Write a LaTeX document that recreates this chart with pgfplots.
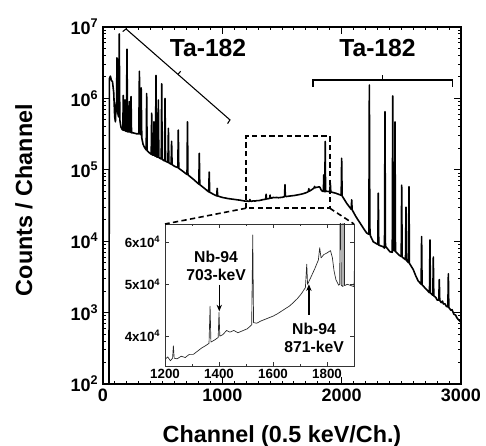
\documentclass[border=0pt]{standalone}
\usepackage{fontspec}
\setmainfont{Liberation Sans}
\usepackage{pgfplots}
\usepackage{pgfplotstable}
\pgfplotsset{compat=1.18}
\usetikzlibrary{arrows.meta}

% gamma spectrum, values (channel, counts)
\pgfplotstableread{
ch cnt
50 100
54 1.9e6
62 2.05e6
70 1.8e6
80 1.7e6
90 1.2e6
98 5.5e5
104 4.7e5
110 8.5e5
114 9.0e5
117 3.7e6
121 7.0e5
126 6.0e5
131 5.5e5
136 8.0e6
141 5.0e5
150 4.0e5
160 3.7e5
166 3.6e5
170 1.1e6
174 3.6e5
180 3.55e5
184 9.5e5
188 3.5e5
196 3.45e5
201 4.9e6
206 3.4e5
216 3.4e5
221 9.0e5
226 3.35e5
231 3.35e5
235 1.06e6
239 3.3e5
250 3.3e5
265 3.25e5
280 3.2e5
300 3.2e5
305 2.4e6
310 3.2e5
316 3.1e5
320 1.4e6
325 2.8e5
335 2.3e5
345 2.1e5
362 1.9e5
366 1.17e6
370 1.85e5
385 1.75e5
404 1.65e5
408 6.2e5
412 1.62e5
423 1.6e5
427 4.7e5
431 1.58e5
440 1.55e5
444 2.1e6
448 1.52e5
460 1.5e5
464 9.5e5
468 1.48e5
488 1.42e5
492 1.6e6
496 1.4e5
516 1.33e5
520 1.0e6
524 1.32e5
544 1.27e5
548 3.8e5
552 1.25e5
571 1.2e5
575 2.5e5
579 1.18e5
600 1.12e5
627 1.07e5
631 3.6e5
635 1.05e5
670 9.5e4
704 8.6e4
708 4.7e5
712 8.5e4
760 7.3e4
803 6.3e4
807 1.7e5
811 6.2e4
850 5.5e4
886 4.9e4
890 9.3e4
894 4.85e4
930 4.5e4
953 4.3e4
957 5.5e4
961 4.3e4
1000 4.1e4
1050 3.95e4
1100 3.85e4
1150 3.75e4
1200 3.62e4
1210 3.66e4
1220 3.6e4
1228 3.64e4
1231 3.84e4
1234 3.64e4
1245 3.63e4
1260 3.67e4
1275 3.65e4
1290 3.7e4
1305 3.7e4
1320 3.75e4
1335 3.8e4
1350 3.84e4
1363 3.88e4
1367 4.55e4
1370 3.9e4
1385 3.94e4
1397 3.98e4
1400 4.43e4
1403 4.0e4
1415 4.03e4
1428 4.1e4
1440 4.07e4
1455 4.1e4
1470 4.06e4
1490 4.1e4
1505 4.13e4
1521 4.2e4
1525 6.18e4
1528 4.24e4
1540 4.23e4
1555 4.27e4
1570 4.3e4
1585 4.33e4
1600 4.36e4
1615 4.4e4
1630 4.45e4
1645 4.5e4
1660 4.55e4
1675 4.62e4
1690 4.7e4
1705 4.8e4
1720 4.93e4
1725 5.45e4
1728 5.0e4
1740 5.15e4
1755 5.35e4
1768 5.55e4
1773 5.85e4
1778 5.6e4
1788 5.68e4
1800 5.72e4
1813 5.78e4
1820 5.6e4
1826 5.3e4
1833 5.1e4
1843 4.98e4
1847 5.0e4
1850 8.5e4
1853 4.98e4
1859 4.95e4
1862 2.5e5
1865 4.97e4
1875 5.0e4
1890 4.97e4
1900 4.95e4
1905 6.5e4
1909 4.9e4
1950 4.7e4
1996 4.4e4
2000 1.45e5
2004 4.3e4
2042 3.4e4
2080 2.8e4
2084 3.8e4
2088 2.75e4
2120 2.2e4
2154 1.8e4
2190 1.45e4
2210 1.3e4
2228 1.25e4
2232 1.54e6
2236 1.6e4
2240 1.2e4
2265 9.8e3
2303 9.0e3
2307 4.7e4
2311 8.8e3
2346 8.4e3
2359 8.0e3
2363 6.5e5
2367 8.5e3
2405 7.1e3
2424 7.0e3
2428 1.08e6
2432 9.0e3
2438 7.5e3
2443 7.3e3
2447 4.7e5
2451 7.2e3
2480 6.4e3
2499 6.1e3
2503 6.1e4
2507 6.0e3
2535 5.5e3
2539 3.0e4
2543 5.4e3
2560 5.0e3
2564 5.8e4
2568 4.9e3
2600 4.0e3
2620 3.3e3
2640 2.8e3
2666 2.5e3
2670 1.16e4
2674 2.45e3
2700 2.2e3
2736 1.9e3
2740 1.04e4
2744 1.88e3
2764 1.75e3
2768 6.0e3
2772 1.72e3
2790 1.62e3
2800 1.5e3
2814 1.5e3
2818 2.9e3
2822 1.48e3
2835 1.38e3
2845 1.45e3
2852 1.32e3
2865 1.33e3
2878 1.22e3
2890 1.2e3
2894 3.5e3
2898 1.18e3
2915 1.08e3
2925 1.1e3
2940 950
2955 920
2965 850
2977 800
2990 760
3000 740
}\spectrum

\begin{document}
\begin{tikzpicture}
\begin{axis}[
    name=main,
    at={(0,0)}, anchor=south west,
    scale only axis,
    width=268.5pt, height=267.75pt,
    xmin=0, xmax=3000,
    ymode=log, ymin=1e2, ymax=1e7,
    xtick={0,1000,2000,3000},
    xticklabels={0,1000,2000,3000},
    minor x tick num=9,
    ytick={1e2,1e3,1e4,1e5,1e6,1e7},
    yticklabels={{10\textsuperscript{2}},{10\textsuperscript{3}},{10\textsuperscript{4}},{10\textsuperscript{5}},{10\textsuperscript{6}},{10\textsuperscript{7}}},
    tick align=inside,
    major tick length=5pt, minor tick length=2.5pt,
    axis line style={line width=1pt},
    tick style={line width=0.7pt, black},
    tick label style={font=\fontsize{13.5}{15}\selectfont\bfseries},
    xlabel={Channel (0.5 keV/Ch.)},
    ylabel={Counts / Channel},
    label style={font=\fontsize{17.5}{20}\selectfont\bfseries},
    xlabel style={at={(axis description cs:0.5,-0.1625)}, anchor=base},
    ylabel style={at={(axis description cs:-0.2207,0.515)}, anchor=center},
]
\addplot[black, line width=1.2pt, line join=round] table[x=ch, y=cnt] {\spectrum};

\node[font=\fontsize{18.5}{20}\selectfont\bfseries] at (axis cs:880,5e6) {Ta-182};
\node[font=\fontsize{18.5}{20}\selectfont\bfseries] at (axis cs:2300,5e6) {Ta-182};

% brackets
\draw[line width=0.8pt] ([shift={(-2.5pt,-2pt)}]axis cs:193,9.4e6) -- (axis cs:193,9.4e6)
    -- (axis cs:1064,5e5) -- ([shift={(-1.8pt,-2.8pt)}]axis cs:1064,5e5);
\draw[line width=0.8pt] (axis cs:628,2.17e6) -- ([shift={(2pt,2.3pt)}]axis cs:628,2.17e6);
\draw[line width=0.8pt] ([yshift=-5pt]axis cs:1760,1.81e6) -- (axis cs:1760,1.81e6)
    -- (axis cs:2925,1.81e6) -- ([yshift=-5pt]axis cs:2925,1.81e6);
\draw[line width=0.8pt] (axis cs:2346,1.81e6) -- ([yshift=3.75pt]axis cs:2346,1.81e6);

% zoom window
\draw[line width=1.2pt, dash pattern=on 4pt off 2.5pt]
    (axis cs:1200,2.9e4) rectangle (axis cs:1900,2.97e5);
\coordinate (rl) at (axis cs:1200,2.9e4);
\coordinate (rr) at (axis cs:1900,2.9e4);
\end{axis}

\begin{axis}[
    name=inset,
    at={(46.5pt,13.5pt)}, anchor=south west,
    scale only axis,
    width=141.75pt, height=106.5pt,
    axis background/.style={fill=white},
    xmin=1200, xmax=1900,
    ymode=log, ymin=3.52e4, ymax=6.48e4,
    xtick={1200,1400,1600,1800},
    xticklabels={1200,1400,1600,1800},
    minor x tick num=1,
    ytick={4e4,5e4,6e4},
    yticklabels={{4x10\textsuperscript{4}},{5x10\textsuperscript{4}},{6x10\textsuperscript{4}}},
    tick align=inside,
    major tick length=3pt, minor tick length=1.8pt,
    axis line style={line width=0.6pt, black!80},
    tick style={line width=0.5pt, black!80},
    tick label style={font=\fontsize{10}{11}\selectfont\bfseries},
    xticklabel style={yshift=1pt},
]
\addplot[black!85, line width=0.5pt, line join=round] table[x=ch, y=cnt] {\spectrum};

\node[font=\fontsize{11.8}{13.5}\selectfont\bfseries, align=center] at (axis cs:1389,5.4e4) {Nb-94\\703-keV};
\draw[-{Stealth[length=5pt,width=4pt]}, line width=0.9pt] (axis cs:1401,4.99e4) -- (axis cs:1401,4.45e4);
\node[font=\fontsize{11.8}{13.5}\selectfont\bfseries, align=center] at (axis cs:1752,3.98e4) {Nb-94\\871-keV};
\draw[-{Stealth[length=5pt,width=4pt]}, line width=0.9pt] (axis cs:1733,4.39e4) -- (axis cs:1733,5.0e4);
\end{axis}

\draw[line width=1.2pt, dash pattern=on 4pt off 2.5pt] (rl) -- (inset.north west);
\draw[line width=1.2pt, dash pattern=on 4pt off 2.5pt] (rr) -- (inset.north east);

\pgfresetboundingbox
\path[use as bounding box] (-77.25pt,-46.5pt) rectangle (287.25pt,288pt);
\end{tikzpicture}
\end{document}
